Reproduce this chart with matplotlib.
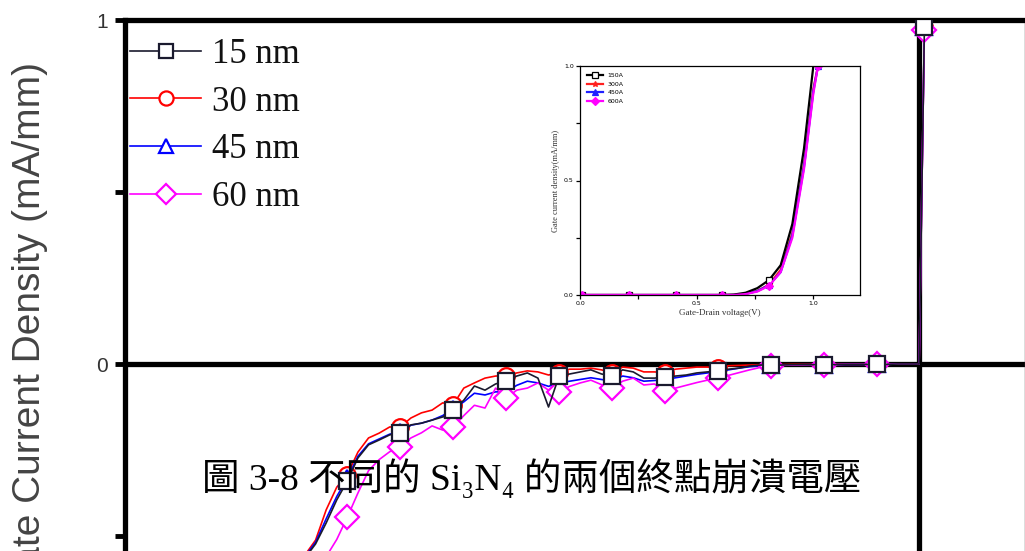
import numpy as np
import matplotlib
matplotlib.use("Agg")
from matplotlib import pyplot as plt

####################################
### Data
####################################

## main plot: gate-drain voltage (V), markers every 1 V
volts = [-11.8, -11.6, -11.4, -11.2, -11.0, -10.8, -10.6, -10.4, -10.2, -10.0,
         -9.8, -9.6, -9.4, -9.2, -9.0, -8.8, -8.6, -8.4, -8.2, -8.0,
         -7.8, -7.6, -7.4, -7.2, -7.0, -6.8, -6.6, -6.4, -6.2, -6.0,
         -5.8, -5.6, -5.4, -5.2, -5.0, -4.8, -4.6, -4.4, -4.2, -4.0,
         -3.8, -3.6, -3.4, -3.2, -3.0, -2.8, -2.6, -2.4, -2.2, -2.0,
         -1.8, -1.6, -1.4, -1.2, -1.0, -0.8, -0.6, -0.4, -0.2, 0.0,
         0.1, 0.2]

j_15nm = [-0.613, -0.564, -0.523, -0.462, -0.395, -0.340, -0.273, -0.235, -0.221, -0.206,
          -0.200, -0.177, -0.172, -0.163, -0.154, -0.134, -0.105, -0.064, -0.076, -0.058,
          -0.049, -0.035, -0.026, -0.041, -0.125, -0.035, -0.029, -0.023, -0.017, -0.029,
          -0.035, -0.017, -0.023, -0.041, -0.041, -0.038, -0.035, -0.032, -0.026, -0.023,
          -0.020, -0.015, -0.012, -0.006, -0.003, -0.003, -0.003, -0.002, -0.002, -0.002,
          -0.002, -0.002, -0.001, -0.001, -0.001, -0.001, -0.001, 0.000, 0.000, 0.000,
          0.98, 0.99]

j_30nm = [-0.584, -0.555, -0.512, -0.424, -0.358, -0.322, -0.256, -0.215, -0.201, -0.183,
          -0.183, -0.157, -0.142, -0.134, -0.113, -0.118, -0.070, -0.055, -0.041, -0.035,
          -0.034, -0.026, -0.020, -0.023, -0.032, -0.025, -0.015, -0.015, -0.012, -0.017,
          -0.025, -0.009, -0.012, -0.023, -0.023, -0.025, -0.015, -0.012, -0.009, -0.009,
          -0.012, -0.005, -0.004, -0.003, -0.002, -0.002, -0.002, -0.001, -0.001, -0.001,
          -0.001, -0.001, 0.000, 0.000, 0.000, 0.000, 0.000, 0.000, 0.000, 0.000,
          0.98, 0.98]

j_45nm = [-0.600, -0.560, -0.518, -0.450, -0.385, -0.332, -0.268, -0.232, -0.218, -0.204,
          -0.198, -0.178, -0.172, -0.163, -0.150, -0.130, -0.110, -0.085, -0.090, -0.081,
          -0.081, -0.062, -0.050, -0.055, -0.065, -0.055, -0.050, -0.045, -0.040, -0.045,
          -0.050, -0.035, -0.040, -0.050, -0.048, -0.045, -0.040, -0.035, -0.030, -0.026,
          -0.022, -0.017, -0.012, -0.008, -0.005, -0.004, -0.003, -0.003, -0.002, -0.002,
          -0.002, -0.002, -0.001, -0.001, -0.001, -0.001, -0.001, 0.000, 0.000, 0.000,
          0.98, 0.99]

j_60nm = [-0.700, -0.660, -0.620, -0.560, -0.510, -0.445, -0.375, -0.310, -0.278, -0.255,
          -0.241, -0.215, -0.200, -0.180, -0.192, -0.183, -0.150, -0.120, -0.128, -0.070,
          -0.099, -0.076, -0.070, -0.055, -0.076, -0.081, -0.065, -0.055, -0.047, -0.060,
          -0.070, -0.050, -0.041, -0.061, -0.058, -0.078, -0.070, -0.062, -0.054, -0.047,
          -0.041, -0.033, -0.025, -0.017, -0.010, -0.005, -0.004, -0.003, -0.003, -0.002,
          -0.002, -0.002, -0.001, -0.001, -0.001, -0.001, -0.001, 0.000, 0.000, 0.000,
          0.97, 0.98]

labels = ["15 nm", "30 nm", "45 nm", "60 nm"]
colors = ["#1a1a2e", "#ff0000", "#0000ff", "#ff00ff"]
markers = ["s", "o", "^", "D"]

## inset: forward gate-drain sweep
v_inset = [0.01, 0.21, 0.41, 0.61, 0.66, 0.71, 0.76, 0.81, 0.86, 0.91, 0.96, 1.00, 1.02]
i_150A = [0.0, 0.0, 0.0, 0.0, 0.002, 0.010, 0.030, 0.065, 0.13, 0.31, 0.64, 1.0, 1.05]
i_300A = [0.0, 0.0, 0.0, 0.0, 0.000, 0.005, 0.018, 0.045, 0.11, 0.27, 0.57, 0.90, 1.0]
i_450A = [0.0, 0.0, 0.0, 0.0, 0.000, 0.005, 0.017, 0.043, 0.10, 0.26, 0.56, 0.89, 1.0]
i_600A = [0.0, 0.0, 0.0, 0.0, 0.000, 0.004, 0.015, 0.040, 0.10, 0.25, 0.55, 0.88, 1.0]
inset_labels = ["150A", "300A", "450A", "600A"]
inset_colors = ["#000000", "#ff2020", "#2020ff", "#ff00ff"]
inset_markers = ["s", "*", "^", "D"]

caption = "圖 3-8 不同的 Si₃N₄ 的兩個終點崩潰電壓"

####################################
### Figure and main axes
####################################

W, H = 1025, 551
fig = plt.figure(figsize=(W / 100, H / 100), dpi=100)
ax = fig.add_axes([125 / W, 0, 900 / W, 531 / H])

series = [j_15nm, j_30nm, j_45nm, j_60nm]
order = [1, 2, 3, 0]          ### black goes on top
handles = {}
for i in order:
    ln, = ax.plot(volts, series[i], color=colors[i], lw=1.2,
                  marker=markers[i], ms=12, mfc="white", mec=colors[i], mew=1.6,
                  markevery=slice(5, None, 5), label=labels[i], zorder=3 + (i == 0))
    handles[i] = ln

ax.axhline(0, color="black", lw=3.8, zorder=2)
ax.axvline(0, color="black", lw=3.8, zorder=2)

ax.set_xlim(-15, 2)
ax.set_ylim(-0.5436, 1.0)

ax.spines["bottom"].set_visible(False)
ax.spines["right"].set_linewidth(1.0)
ax.spines["right"].set_color("#555555")
ax.spines["left"].set_linewidth(3.8)
ax.spines["top"].set_linewidth(3.8)

ax.set_xticks([])
ax.set_yticks([0, 1])
ax.set_yticklabels(["0", "1"])
ax.set_yticks([-0.5, 0.5], minor=True)
ax.tick_params(axis="y", which="both", direction="out", length=7, width=3.5, pad=5,
               labelsize=15, labelcolor="#333333")
for t in ax.get_yticklabels():
    t.set_family("Liberation Sans")

fig.text(30 / W, 1 - 62 / H, "Gate Current Density (mA/mm)", rotation=90,
         ha="center", va="top", fontsize=28, color="#444444", family="Liberation Sans")

leg = ax.legend([handles[i] for i in range(4)], labels, loc="upper left",
                bbox_to_anchor=(130 / W, 1 - 38 / H), bbox_transform=fig.transFigure,
                frameon=False, borderpad=0, borderaxespad=0, handlelength=2.05,
                handletextpad=0.3, labelspacing=0.42, markerscale=0.85,
                prop={"family": "Liberation Serif", "size": 25})
for t in leg.get_texts():
    t.set_color("#111111")

####################################
### Caption drawn over the curves
####################################

fig.text(532 / W, 1 - 478 / H, caption, ha="center", va="center", fontsize=27,
         family=["Liberation Serif", "Noto Sans CJK TC", "DejaVu Serif"], zorder=10)

####################################
### Inset
####################################

ins = fig.add_axes([580 / W, 1 - 295 / H, 280 / W, 229 / H])
inset_series = [i_150A, i_300A, i_450A, i_600A]
for i in [1, 2, 0, 3]:
    ins.plot(v_inset, inset_series[i], color=inset_colors[i], lw=1.6,
             marker=inset_markers[i], ms=4, mfc="white" if i == 0 else inset_colors[i],
             mec=inset_colors[i], mew=0.9, markevery=[0, 1, 2, 3, 7, 12],
             label=inset_labels[i])
ins.set_xlim(0, 1.2)
ins.set_ylim(0, 1.0)
ins.set_xticks([0, 0.5, 1.0])
ins.set_xticklabels(["0.0", "0.5", "1.0"])
ins.set_xticks([0.25, 0.75], minor=True)
ins.set_yticks([0, 0.5, 1.0])
ins.set_yticklabels(["0.0", "0.5", "1.0"])
ins.set_yticks([0.25, 0.75], minor=True)
ins.tick_params(which="both", direction="out", length=3, width=0.9, pad=1.5,
                labelsize=4.5)
for s in ins.spines.values():
    s.set_linewidth(0.9)
ins.set_xlabel("Gate-Drain voltage(V)", fontsize=6.5, family="Liberation Serif",
               color="#333333", labelpad=2)
ins.set_ylabel("Gate current density(mA/mm)", fontsize=6, family="Liberation Serif",
               color="#333333", labelpad=3)
h, l = ins.get_legend_handles_labels()
idx = [l.index(s) for s in inset_labels]
ins.legend([h[k] for k in idx], inset_labels, loc="upper left", frameon=False,
           fontsize=4.5, handlelength=2.5, labelspacing=0.5, borderpad=0.6)

plt.savefig("out.png", dpi=100)
